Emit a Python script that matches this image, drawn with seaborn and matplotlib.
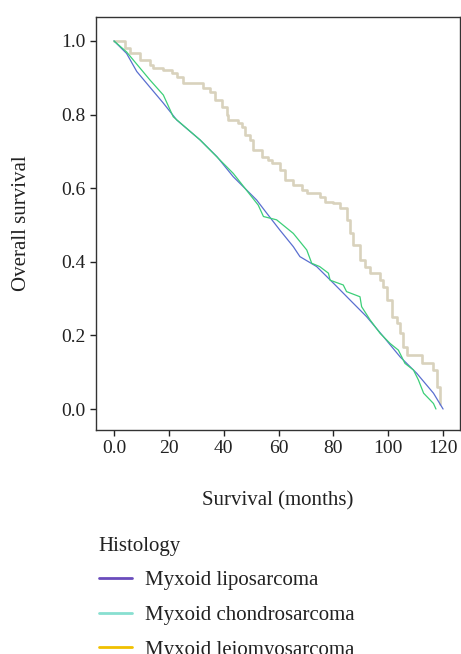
import matplotlib
matplotlib.use("Agg")
import matplotlib.pyplot as plt
from matplotlib.lines import Line2D
import numpy as np
import pandas as pd
import seaborn as sns

# Kaplan-Meier style curves
lipo_months = [0, 4.6, 8.3, 11.9, 18, 22.9, 31.4, 37.5, 43.5, 52, 55.7, 60.5, 65.4,
               67.8, 73.9, 80, 86.1, 92.1, 98.2, 104.3, 110.4, 116.5, 120]
lipo_surv = [1.0, 0.966, 0.917, 0.885, 0.831, 0.785, 0.731, 0.686, 0.631, 0.568, 0.532,
             0.486, 0.441, 0.414, 0.387, 0.342, 0.296, 0.251, 0.197, 0.142, 0.097, 0.043, 0.0]

chondro_months = [0, 4.6, 13.1, 18, 21.6, 31.4, 43.5, 52.6, 54.5, 59.3, 65.4, 70.3, 72.1,
                  75, 78.2, 78.8, 83.6, 84.8, 89.7, 90.3, 93.4, 97, 100.7, 103.7, 106.1,
                  109.2, 111, 112.9, 116.5, 117.4]
chondro_surv = [1.0, 0.97, 0.894, 0.853, 0.794, 0.731, 0.64, 0.554, 0.523, 0.514, 0.477,
                0.432, 0.396, 0.387, 0.369, 0.35, 0.337, 0.319, 0.305, 0.278, 0.242, 0.206,
                0.178, 0.160, 0.124, 0.106, 0.079, 0.043, 0.015, 0.0]

leio_months = [0, 2.2, 4.0, 5.8, 9.5, 13.1, 14.3, 17.9, 21, 22.9, 25.3, 32.5, 35, 36.8, 39.3,
               41.1, 41.7, 45.3, 46.6, 47.8, 49.6, 50.8, 53.8, 56.3, 57.5, 60.5, 62.4, 65.4,
               68.5, 70.3, 75.1, 76.9, 80, 82.4, 84.9, 86.1, 87.3, 89.7, 91.5, 93.4, 97,
               98.2, 99.4, 101.3, 103.1, 104.3, 105.5, 106.7, 112.2, 116.5, 117.7, 118.7]
leio_surv = [1.0, 1.0, 0.98, 0.966, 0.948, 0.935, 0.926, 0.921, 0.912, 0.903, 0.886, 0.871,
             0.862, 0.840, 0.821, 0.799, 0.785, 0.776, 0.767, 0.745, 0.731, 0.704, 0.686,
             0.677, 0.668, 0.649, 0.622, 0.609, 0.595, 0.586, 0.577, 0.563, 0.559, 0.545,
             0.514, 0.477, 0.446, 0.405, 0.387, 0.369, 0.351, 0.332, 0.296, 0.251, 0.233,
             0.206, 0.169, 0.147, 0.124, 0.106, 0.061, 0.015]

groups = ["Myxoid liposarcoma", "Myxoid chondrosarcoma", "Myxoid leiomyosarcoma"]
legend_colors = ["#6a4cbc", "#88dfd0", "#f0c000"]
x_ticks = [0, 20, 40, 60, 80, 100, 120]
x_tick_labels = ["0.0", "20", "40", "60", "80", "100", "120"]
y_ticks = [0.0, 0.2, 0.4, 0.6, 0.8, 1.0]

sns.set_theme(style="white")
plt.rcParams["font.family"] = ["Liberation Serif", "DejaVu Serif"]
plt.rcParams["text.color"] = "#222222"

fig = plt.figure(figsize=(4.61, 6.54), dpi=100)
ax = fig.add_axes([0.208, 0.3425, 0.79, 0.6315])

leio_df = pd.DataFrame({"month": leio_months, "surv": leio_surv})
lipo_df = pd.DataFrame({"month": lipo_months, "surv": lipo_surv})
chondro_df = pd.DataFrame({"month": chondro_months, "surv": chondro_surv})

sns.lineplot(data=leio_df, x="month", y="surv", ax=ax, estimator=None, sort=False,
             color="#d9d2bd", linewidth=1.9, drawstyle="steps-post")
sns.lineplot(data=lipo_df, x="month", y="surv", ax=ax, estimator=None, sort=False,
             color="#5a6fd0", linewidth=0.9)
sns.lineplot(data=chondro_df, x="month", y="surv", ax=ax, estimator=None, sort=False,
             color="#3ccf78", linewidth=0.9)

ax.set_xlim(-6.6, 126.2)
ax.set_ylim(-0.057, 1.065)
ax.set_xticks(x_ticks)
ax.set_xticklabels(x_tick_labels)
ax.set_yticks(y_ticks)
ax.set_yticklabels([f"{v:.1f}" for v in y_ticks])
ax.tick_params(axis="both", which="major", direction="out", length=4, width=1,
               color="#222222", labelsize=14, labelcolor="#222222", bottom=True, left=True)
for sp in ax.spines.values():
    sp.set_color("#333333")
    sp.set_linewidth(1.0)
ax.set_xlabel("Survival (months)", fontsize=15, labelpad=24, color="#222222")
ax.set_ylabel("Overall survival", fontsize=15, labelpad=22, color="#222222")

handles = [Line2D([0], [0], color=c, linewidth=2) for c in legend_colors]
leg = fig.legend(handles, groups, title="Histology", loc="upper left",
                 bbox_to_anchor=(0.196, 0.192), frameon=False, fontsize=15,
                 title_fontsize=15, alignment="left", handlelength=1.6,
                 handletextpad=0.6, labelspacing=0.72, borderaxespad=0)

fig.savefig("out.png", dpi=100)
